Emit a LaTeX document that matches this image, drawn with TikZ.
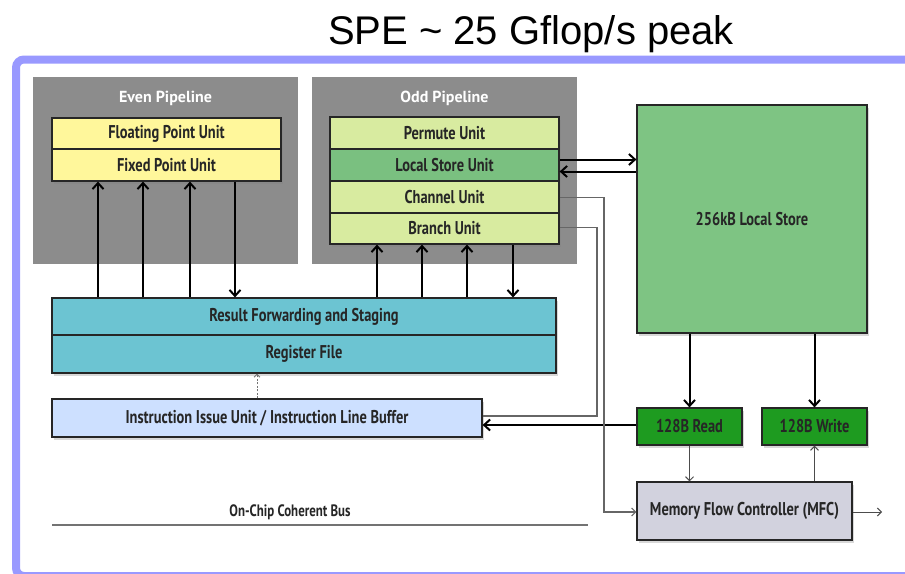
\documentclass[tikz,border=0pt]{standalone}
\usepackage{fontspec}
\setmainfont{Liberation Sans}
\newfontfamily\ptsans{PT Sans}
\newfontfamily\condf[FakeStretch=0.78]{PT Sans}
\usetikzlibrary{arrows.meta,shadows}
\definecolor{frameblue}{RGB}{153,153,255}
\definecolor{bggray}{RGB}{140,140,140}
\definecolor{unityellow}{RGB}{255,247,155}
\definecolor{unitlgreen}{RGB}{216,235,160}
\definecolor{unitmgreen}{RGB}{122,192,128}
\definecolor{lsgreen}{RGB}{126,196,131}
\definecolor{teal}{RGB}{108,196,210}
\definecolor{iiublue}{RGB}{205,224,255}
\definecolor{dgreen}{RGB}{30,155,32}
\definecolor{mfcgray}{RGB}{210,210,222}
\tikzset{
  bgbox/.style={fill=bggray, draw=none, inner sep=0pt},
  bgtitle/.style={text=white, font=\ptsans\bfseries\fontsize{16}{16}\selectfont, inner sep=0pt},
  unit/.style={draw=black!85, line width=1.2pt, text=black!85, inner sep=0pt,
    font=\condf\bfseries\fontsize{18.5}{18.5}\selectfont,
    drop shadow={shadow xshift=2pt, shadow yshift=-3pt, opacity=0.3}},
  harrow/.style={line width=2pt, black, -{Straight Barb[length=6pt,width=11pt]}},
  tarrow/.style={line width=1pt, black!70, -{Straight Barb[length=4pt,width=8pt]}},
  gline/.style={line width=1.1pt, black!60},
  garrow/.style={line width=1.1pt, black!60, -{Straight Barb[length=4pt,width=8pt]}},
}
\begin{document}
\begin{tikzpicture}[x=1pt,y=-1pt]
\useasboundingbox (0,0) rectangle (905,573);
% frame
\draw[frameblue, line width=8pt, fill=white, rounded corners=8pt] (16,59.5) -- (930,59.5) -- (930,576) -- (16,576) -- cycle;
% title
\node[anchor=base, font=\fontsize{40}{40}\selectfont, inner sep=0pt] (title) at (531,44) {SPE \textasciitilde{} 25 Gflop/s peak};
% pipelines background
\node[bgbox, minimum width=265pt, minimum height=187pt] (even) at (165.5,170.5) {};
\node[bgtitle] (eventitle) at (165.5,98) {Even Pipeline};
\node[bgbox, minimum width=265pt, minimum height=187pt] (odd) at (444.5,170.5) {};
\node[bgtitle] (oddtitle) at (444.5,98) {Odd Pipeline};
% even units
\node[unit, fill=unityellow, minimum width=229pt, minimum height=31pt] (fpu) at (166.5,133.5) {Floating Point Unit};
\node[unit, fill=unityellow, minimum width=229pt, minimum height=32pt] (fxu) at (166.5,165) {Fixed Point Unit};
% odd units
\node[unit, fill=unitlgreen, minimum width=229pt, minimum height=32pt] (perm) at (444.5,133) {Permute Unit};
\node[unit, fill=unitmgreen, minimum width=229pt, minimum height=32pt] (lsu) at (444.5,165) {Local Store Unit};
\node[unit, fill=unitlgreen, minimum width=229pt, minimum height=32pt] (chan) at (444.5,197) {Channel Unit};
\node[unit, fill=unitlgreen, minimum width=229pt, minimum height=31pt] (branch) at (444.5,228.5) {Branch Unit};
% local store
\node[unit, fill=lsgreen, minimum width=230pt, minimum height=228pt] (ls) at (752,219) {256kB Local Store};
% register file
\node[unit, fill=teal, minimum width=504pt, minimum height=37pt] (rfs) at (304,316.5) {Result Forwarding and Staging};
\node[unit, fill=teal, minimum width=504pt, minimum height=38pt] (reg) at (304,354) {Register File};
% instruction issue
\node[unit, fill=iiublue, minimum width=430pt, minimum height=38pt] (iiu) at (267,418) {Instruction Issue Unit / Instruction Line Buffer};
% read / write
\node[unit, fill=dgreen, minimum width=105pt, minimum height=37pt] (rd) at (689.5,426.5) {128B Read};
\node[unit, fill=dgreen, minimum width=105pt, minimum height=37pt] (wr) at (814.5,426.5) {128B Write};
% MFC
\node[unit, fill=mfcgray, minimum width=215pt, minimum height=58pt] (mfc) at (744.5,511) {Memory Flow Controller (MFC)};
\coordinate (out) at (882,512);
% bus
\coordinate (busl) at (52,525);
\coordinate (busr) at (588,525);
\draw[line width=2pt, black!55] (busl) -- (busr);
\node[font=\condf\bfseries\fontsize{16.5}{16.5}\selectfont, text=black!85, inner sep=0pt] (buslabel) at (290,512) {On-Chip Coherent Bus};
% even arrows
\foreach \x in {98,143,190} \draw[harrow] (rfs.north -| \x,0) -- (fxu.south -| \x,0);
\draw[harrow] (fxu.south -| 235,0) -- (rfs.north -| 235,0);
% odd arrows
\foreach \x in {377,422,467} \draw[harrow] (rfs.north -| \x,0) -- (branch.south -| \x,0);
\draw[harrow] (branch.south -| 513,0) -- (rfs.north -| 513,0);
% LSU <-> LS
\draw[harrow] (lsu.east |- 0,159.5) -- (ls.west |- 0,159.5);
\draw[harrow] (ls.west |- 0,171.5) -- (lsu.east |- 0,171.5);
% LS -> read/write
\draw[harrow] (ls.south -| rd.north) -- (rd.north);
\draw[harrow] (ls.south -| wr.north) -- (wr.north);
% read/write <-> MFC
\draw[tarrow] (rd.south) -- (mfc.north -| rd.south);
\draw[tarrow] (mfc.north -| wr.south) -- (wr.south);
\draw[tarrow] (mfc.east |- out) -- (out);
% read -> IIU
\draw[harrow] (rd.west |- 0,425) -- (iiu.east |- 0,425);
% channel -> MFC
\draw[garrow] (chan.east |- 0,197.5) -- (604,197.5) |- (mfc.west |- 0,512);
% branch -> IIU
\draw[gline] (branch.east |- 0,227.5) -- (597,227.5) |- (iiu.east |- 0,416);
% IIU -> register file (dotted)
\draw[line width=0.9pt, black!55, dash pattern=on 2pt off 1.5pt, -{Straight Barb[length=3pt,width=6pt]}] (iiu.north -| 257,0) -- (reg.south -| 257,0);
\end{tikzpicture}
\end{document}
